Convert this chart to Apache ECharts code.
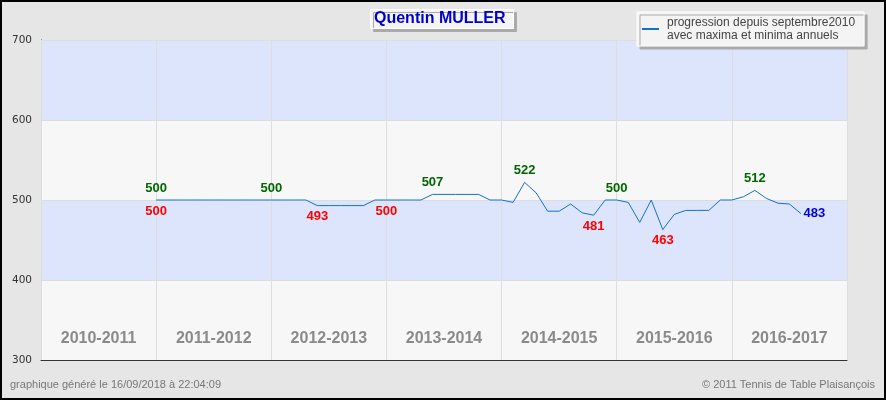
<!DOCTYPE html>
<html>
<head>
<meta charset="utf-8">
<script src="https://cdn.jsdelivr.net/npm/echarts@6/dist/echarts.min.js"></script>
<style>
html,body{margin:0;padding:0;background:#e6e6e6;}
#chart{width:886px;height:400px;}
</style>
</head>
<body>
<div id="chart"></div>
<script>
// ---- data ----
const seasons = ['2010-2011', '2011-2012', '2012-2013', '2013-2014', '2014-2015', '2015-2016', '2016-2017'];
const slotsPerSeason = 10;          // monthly slots per season
const firstSlot = 10;               // slot of the first rating
const ratings = [
  500, 500, 500, 500, 500, 500, 500, 500, 500, 500,
  500, 500, 500, 500, 493, 493, 493, 493, 493, 500,
  500, 500, 500, 500, 507, 507, 507, 507, 507, 500,
  500, 497, 522, 509, 486, 486, 495, 484, 481, 500,
  500, 497, 472, 500, 463, 482, 487, 487, 487, 500,
  500, 504, 512, 502, 496, 495, 483
];
const maxLabelIdx = [0, 10, 24, 32, 40, 52];   // annual maxima shown
const minLabelIdx = [0, 14, 20, 38, 44];       // annual minima shown
const yMin = 300, yMax = 700, yStep = 100;
const titleText = 'Quentin MULLER';
const seriesName = 'progression depuis septembre2010\navec maxima et minima annuels';
const footerLeft = 'graphique généré le 16/09/2018 à 22:04:09';
const footerRight = '© 2011 Tennis de Table Plaisançois';

// ---- build ----
const lastIdx = ratings.length - 1;
const lineData = ratings.map((v, i) => [firstSlot + i, v]);
const maxData = maxLabelIdx.map(i => [firstSlot + i, ratings[i]]);
const minData = minLabelIdx.map(i => [firstSlot + i, ratings[i]]);
const lastData = [[firstSlot + lastIdx, ratings[lastIdx]]];
const labelFont = '"Liberation Sans", Arial, sans-serif';

function labelSeries(name, data, position, distance, color) {
  return {
    name: name,
    type: 'scatter',
    xAxisIndex: 0,
    data: data,
    symbolSize: 1,
    itemStyle: { color: 'rgba(0,0,0,0)' },
    silent: true,
    label: {
      show: true, position: position, distance: distance,
      color: color, fontWeight: 'bold', fontSize: 13,
      fontFamily: labelFont, textBorderWidth: 0, opacity: 1,
      formatter: p => p.value[1]
    },
    z: 5
  };
}

const chart = echarts.init(document.getElementById('chart'), null, { renderer: 'canvas' });
chart.setOption({
  backgroundColor: '#e6e6e6',
  animation: false,
  title: {
    text: titleText,
    left: 370, top: 9,
    padding: [2, 8, 2, 4],
    backgroundColor: '#f4f4f4',
    borderColor: '#ffffff', borderWidth: 1,
    shadowColor: '#aaaaaa', shadowBlur: 0, shadowOffsetX: 3, shadowOffsetY: 3,
    textStyle: {
      color: '#0000cc', fontSize: 16, fontWeight: 'bold', lineHeight: 16,
      fontFamily: '"Liberation Sans", Arial, sans-serif'
    }
  },
  legend: {
    data: [{ name: seriesName, icon: 'rect' }],
    left: 637, top: 12,
    orient: 'vertical',
    padding: [4, 9, 4, 5],
    itemWidth: 17, itemHeight: 2,
    backgroundColor: '#f4f4f4',
    borderColor: '#ffffff', borderWidth: 1,
    shadowColor: '#aaaaaa', shadowBlur: 0, shadowOffsetX: 3, shadowOffsetY: 3,
    itemStyle: { color: '#1272c8' },
    textStyle: {
      color: '#444444', fontSize: 12, lineHeight: 13,
      fontFamily: '"Liberation Sans", Arial, sans-serif',
      padding: [0, 0, 0, 3]
    }
  },
  grid: { left: 41, right: 39, top: 40, bottom: 40, containLabel: false },
  xAxis: [
    {
      type: 'value', min: 0, max: seasons.length * slotsPerSeason,
      show: false
    },
    {
      type: 'category', data: seasons, position: 'bottom',
      boundaryGap: true,
      axisLine: { show: true, lineStyle: { color: '#333333', width: 1 } },
      axisTick: { show: false },
      axisLabel: {
        inside: true, margin: 13,
        color: '#8a8a8a', fontSize: 16, fontWeight: 'bold',
        fontFamily: '"Liberation Sans", Arial, sans-serif'
      },
      splitLine: { show: true, lineStyle: { color: '#dddddd', width: 1 } },
      z: 3
    }
  ],
  yAxis: {
    type: 'value', min: yMin, max: yMax, interval: yStep,
    axisLine: { show: true, lineStyle: { color: '#333333', width: 1 } },
    axisTick: { show: false },
    axisLabel: {
      margin: 9, color: '#333333', fontSize: 10.5,
      fontFamily: '"DejaVu Sans", Verdana, sans-serif'
    },
    splitLine: { show: true, lineStyle: { color: '#dddddd', width: 1 } },
    splitArea: { show: true, areaStyle: { color: ['#f7f7f7', '#dde5fc'] } }
  },
  series: [
    {
      name: seriesName,
      type: 'line',
      xAxisIndex: 0,
      data: lineData,
      symbol: 'none',
      lineStyle: { color: '#1272c8', width: 1 },
      itemStyle: { color: '#1272c8' },
      z: 4
    },
    labelSeries('maxima', maxData, 'top', 5, '#006600'),
    labelSeries('minima', minData, 'bottom', 4, '#ff0000'),
    labelSeries('dernier', lastData, 'right', 2, '#0000dd')
  ],
  graphic: [
    {
      type: 'rect', silent: true, z: 100,
      shape: { x: 1, y: 1, width: 884, height: 398 },
      style: { fill: 'none', stroke: '#000000', lineWidth: 2 }
    },
    {
      type: 'text', left: 10, top: 379, silent: true,
      style: {
        text: footerLeft, fill: '#777777', fontSize: 11,
        fontFamily: '"Liberation Sans", Arial, sans-serif'
      }
    },
    {
      type: 'text', right: 11, top: 379, silent: true,
      style: {
        text: footerRight, fill: '#777777', fontSize: 11,
        fontFamily: '"Liberation Sans", Arial, sans-serif'
      }
    }
  ]
});
</script>
</body>
</html>
